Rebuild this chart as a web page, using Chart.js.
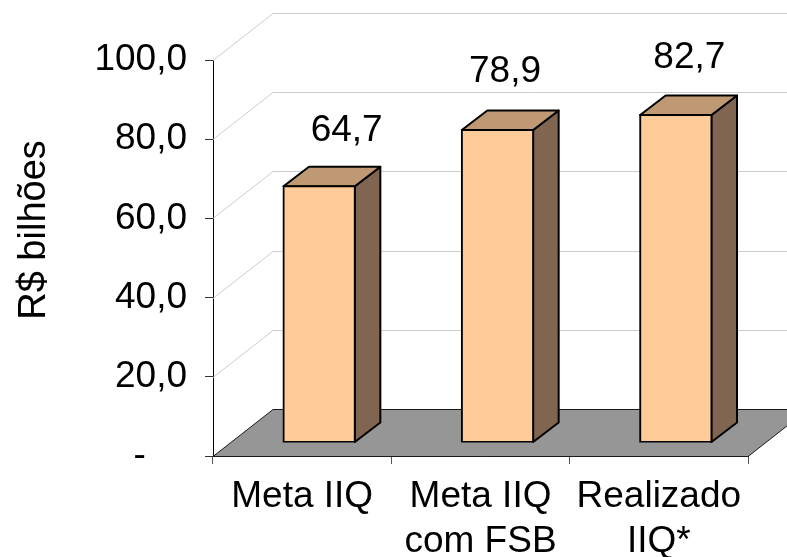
<!DOCTYPE html>
<html>
<head>
<meta charset="utf-8">
<style>html,body{margin:0;padding:0;background:#fff}canvas{display:block}</style>
<script src="https://cdn.jsdelivr.net/npm/chart.js@4"></script>
</head>
<body>
<canvas id="c" width="787" height="557"></canvas>
<script>
const categories = [["Meta IIQ"], ["Meta IIQ", "com FSB"], ["Realizado", "IIQ*"]];
const values = [64.7, 78.9, 82.7];
const valueLabels = ["64,7", "78,9", "82,7"];
const yTitle = "R$ bilhões";
const labelShiftX = [27.5, 7.5, 13.5];
const labelShiftY = [-45.5, -48.5, -47];

const FONT = '"Liberation Sans", Arial, sans-serif';
const SIZE = 37;
const wall = {dx: 60, dy: -47};
const barDepth = {dx: 25.5, dy: -19.5};
const barShift = {dx: 17, dy: -13.5};

function poly(ctx, pts, fill, stroke, lw) {
  ctx.beginPath();
  pts.forEach((p, i) => i ? ctx.lineTo(p[0], p[1]) : ctx.moveTo(p[0], p[1]));
  ctx.closePath();
  if (fill) { ctx.fillStyle = fill; ctx.fill(); }
  if (stroke) { ctx.strokeStyle = stroke; ctx.lineWidth = lw; ctx.lineJoin = 'round'; ctx.stroke(); }
}

const scene = {
  id: 'scene',
  beforeDatasetsDraw(chart) {
    const {ctx, scales: {x, y}, chartArea: a} = chart;
    ctx.save();
    ctx.strokeStyle = '#cccccc';
    ctx.lineWidth = 1;
    y.ticks.forEach(t => {
      if (t.value === 0) return;
      const py = Math.round(y.getPixelForValue(t.value)) + 0.5;
      ctx.beginPath();
      ctx.moveTo(a.left, py);
      ctx.lineTo(a.left + wall.dx, py + wall.dy);
      ctx.lineTo(a.right + wall.dx, py + wall.dy);
      ctx.stroke();
    });
    const f = a.bottom + 0.5;
    poly(ctx, [[a.left, f], [a.left + wall.dx, f + wall.dy], [a.right + wall.dx, f + wall.dy], [a.right, f]], '#969696', '#1a1a1a', 1);
    ctx.restore();

    ctx.save();
    ctx.translate(barShift.dx, barShift.dy);
    chart.getDatasetMeta(0).data.forEach(b => {
      const l = b.x - b.width / 2, r = b.x + b.width / 2, t = b.y, bt = b.base;
      const dx = barDepth.dx, dy = barDepth.dy;
      poly(ctx, [[r, t], [r + dx, t + dy], [r + dx, bt + dy], [r, bt]], '#806650', '#000', 2);
      poly(ctx, [[l, t], [l + dx, t + dy], [r + dx, t + dy], [r, t]], '#BF9973', '#000', 2);
    });
  },
  afterDatasetsDraw(chart) {
    const {ctx, chartArea: a} = chart;
    ctx.restore();
    ctx.save();
    ctx.fillStyle = '#000';
    ctx.font = SIZE + 'px ' + FONT;
    ctx.textAlign = 'center';
    ctx.textBaseline = 'alphabetic';
    chart.getDatasetMeta(0).data.forEach((b, i) => {
      ctx.fillText(valueLabels[i], b.x + barShift.dx + labelShiftX[i], b.y + barShift.dy + labelShiftY[i]);
    });
    ctx.font = '38px ' + FONT;
    ctx.translate(45, 230);
    ctx.rotate(-Math.PI / 2);
    ctx.fillText(yTitle, 0, 0);
    ctx.restore();
  }
};

new Chart(document.getElementById('c'), {
  type: 'bar',
  data: {
    labels: categories,
    datasets: [{
      data: values,
      backgroundColor: '#FFCC99',
      borderColor: '#000',
      borderWidth: 2,
      inflateAmount: 1,
      borderSkipped: false,
      barPercentage: 0.4,
      categoryPercentage: 1
    }]
  },
  options: {
    responsive: false,
    animation: false,
    devicePixelRatio: 1,
    layout: {padding: {top: 60, right: 39, left: 0, bottom: 0}},
    plugins: {legend: {display: false}, tooltip: {enabled: false}},
    scales: {
      x: {
        afterFit(s) { s.height = 101; },
        grid: {drawOnChartArea: false, drawTicks: true, tickLength: 8, color: '#555'},
        border: {display: true, color: '#000', width: 1},
        ticks: {color: '#000', font: {family: FONT, size: SIZE, lineHeight: 1.22}, padding: 10, maxRotation: 0, autoSkip: false}
      },
      y: {
        min: 0, max: 100,
        afterFit(s) { s.width = 213; },
        grid: {drawOnChartArea: false, drawTicks: true, tickLength: 8, color: '#333'},
        border: {display: true, color: '#000', width: 1},
        ticks: {
          stepSize: 20, color: '#000', padding: 18,
          font: {family: FONT, size: SIZE},
          callback: v => v === 0 ? '-\u00A0\u00A0\u00A0\u00A0' : v.toFixed(1).replace('.', ',')
        }
      }
    }
  },
  plugins: [scene]
});
</script>
</body>
</html>
